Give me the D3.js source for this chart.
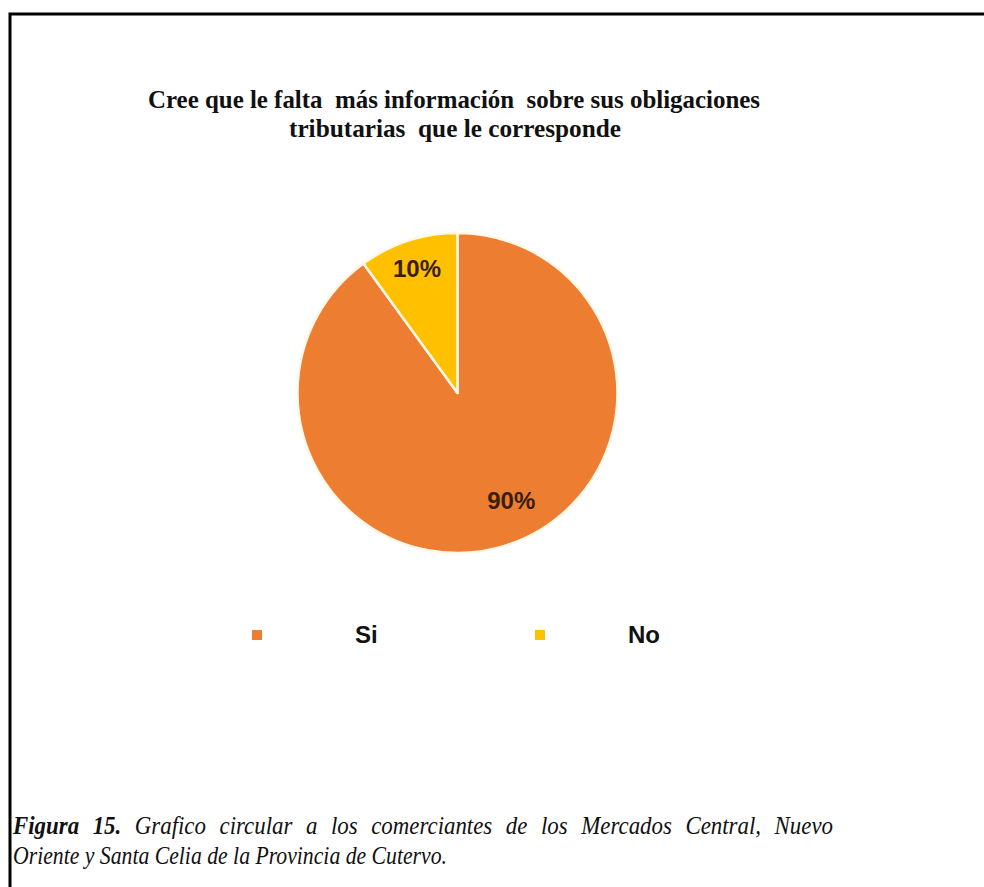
<!DOCTYPE html>
<html>
<head>
<meta charset="utf-8">
<script src="https://cdn.jsdelivr.net/npm/d3@7"></script>
<style>
  html, body { margin: 0; padding: 0; background: #ffffff; }
  svg { display: block; }
  text { white-space: pre; }
</style>
</head>
<body>
<svg id="chart" width="984" height="887"></svg>
<script>
// Survey answers and their shares (percent)
const categories = ["Si", "No"];
const values = [90, 10];
const colors = ["#ED7D31", "#FFC000"];

const titleLines = [
  "Cree que le falta  más información  sobre sus obligaciones",
  "tributarias  que le corresponde"
];

const captionLead = "Figura 15.";
const captionLines = [
  " Grafico circular a los comerciantes de los Mercados Central, Nuevo",
  "Oriente y Santa Celia de la Provincia de Cutervo."
];

const svg = d3.select("#chart");
const W = 984, H = 887;

// Frame around the figure (open towards the right and bottom edges)
svg.append("path")
  .attr("d", `M10,${H} L10,14 L${W},14`)
  .attr("fill", "none")
  .attr("stroke", "#000")
  .attr("stroke-width", 3);

// Title (narrow bold serif)
const title = svg.append("text")
  .attr("font-family", "'Liberation Serif', 'Times New Roman', serif")
  .attr("font-weight", "bold")
  .attr("font-size", 26)
  .attr("fill", "#111");
title.append("tspan").attr("x", 454).attr("y", 108)
  .attr("text-anchor", "middle")
  .attr("textLength", 612).attr("lengthAdjust", "spacingAndGlyphs")
  .text(titleLines[0]);
title.append("tspan").attr("x", 455).attr("y", 137)
  .attr("text-anchor", "middle")
  .attr("textLength", 332).attr("lengthAdjust", "spacingAndGlyphs")
  .text(titleLines[1]);

// Pie
const cx = 457.5, cy = 393, R = 160;
const data = categories.map((c, i) => ({ cat: c, value: values[i], color: colors[i] }));
const pie = d3.pie().value(d => d.value).sort(null);
const arcs = pie(data);
const arc = d3.arc().innerRadius(0).outerRadius(R);

const g = svg.append("g").attr("transform", `translate(${cx},${cy})`);
g.selectAll("path.slice")
  .data(arcs)
  .join("path")
  .attr("class", "slice")
  .attr("d", arc)
  .attr("fill", d => d.data.color)
  .attr("stroke", "#FFF8E8")
  .attr("stroke-width", 2.5)
  .attr("stroke-linejoin", "round");

// Label placement: angular nudge (radians) and radius fraction per slice
const labelShift = [0.15, 0];
const labelRadius = [0.75, 0.82];
g.selectAll("text.pct")
  .data(arcs)
  .join("text")
  .attr("class", "pct")
  .attr("transform", (d, i) => {
    const a = (d.startAngle + d.endAngle) / 2 - labelShift[i];
    const r = R * labelRadius[i];
    return `translate(${r * Math.sin(a)},${-r * Math.cos(a)})`;
  })
  .attr("text-anchor", "middle")
  .attr("dy", "0.36em")
  .attr("font-family", "'Liberation Sans', Arial, sans-serif")
  .attr("font-weight", "bold")
  .attr("font-size", 24)
  .attr("fill", "#3a1d0c")
  .text(d => `${d.data.value}%`);

// Legend
const legendSwatchX = d3.scaleOrdinal().domain(categories).range([252, 535]);
const legendTextX = d3.scaleOrdinal().domain(categories).range([355, 628]);
const items = svg.append("g").selectAll("g.item")
  .data(data)
  .join("g")
  .attr("class", "item");
items.append("rect")
  .attr("x", d => legendSwatchX(d.cat)).attr("y", 630)
  .attr("width", 10).attr("height", 10)
  .attr("fill", d => d.color);
items.append("text")
  .attr("x", d => legendTextX(d.cat)).attr("y", 643)
  .attr("font-family", "'Liberation Sans', Arial, sans-serif")
  .attr("font-weight", "bold")
  .attr("font-size", 24)
  .attr("fill", "#111")
  .text(d => d.cat);

// Caption: narrow italic serif, first line justified to the right margin
const capFont = "'Liberation Serif', 'Times New Roman', serif";
const sx = 0.88;
const capG = svg.append("g").attr("transform", `translate(13,0) scale(${sx},1)`);
const cap1 = capG.append("text")
  .attr("x", 0).attr("y", 834)
  .attr("font-family", capFont)
  .attr("font-style", "italic")
  .attr("font-size", 26)
  .attr("fill", "#111");
cap1.append("tspan").attr("font-weight", "bold").text(captionLead);
cap1.append("tspan").text(captionLines[0]);
const natural = cap1.node().getComputedTextLength();
const gaps = (captionLead + captionLines[0]).split(" ").length - 1;
cap1.attr("word-spacing", Math.max(0, (820 / sx - natural) / gaps));

capG.append("text")
  .attr("x", 0).attr("y", 864)
  .attr("font-family", capFont)
  .attr("font-style", "italic")
  .attr("font-size", 26)
  .attr("fill", "#111")
  .attr("textLength", 434 / sx).attr("lengthAdjust", "spacingAndGlyphs")
  .text(captionLines[1]);
</script>
</body>
</html>
